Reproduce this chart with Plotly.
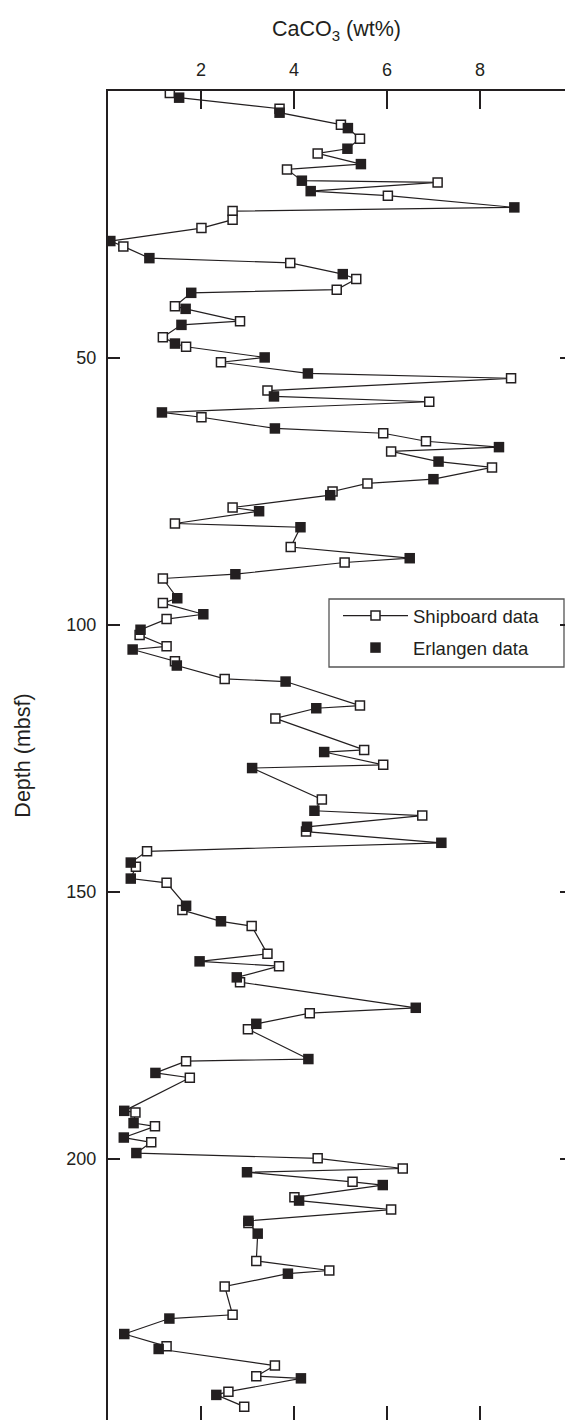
import plotly.graph_objects as go

# ---- data ----
ship_depth = [0.39, 3.31, 6.31, 8.93, 11.69, 14.68, 17.12, 19.61, 22.49, 24.10, 25.67, 29.1, 32.2, 35.2, 37.2,
              40.3, 43.1, 46.1, 47.9, 50.8, 53.8, 56.1, 58.2, 61.1, 64.1, 65.6, 67.5, 70.5, 73.5, 75.0, 78.0,
              81.0, 85.4, 88.3, 91.3, 95.9, 98.9, 101.9, 104.0, 106.8, 110.1, 115.1, 117.5, 123.4, 126.2,
              132.7, 135.7, 138.7, 142.4, 145.3, 148.3, 153.4, 156.4, 161.6, 163.9, 166.9, 172.7, 175.7,
              181.7, 184.8, 191.3, 193.9, 196.9, 199.9, 201.8, 204.3, 207.2, 209.5, 212.0, 219.1, 220.9,
              223.9, 229.2, 235.1, 238.7, 240.7, 243.6, 246.4]
ship_caco3 = [1.33, 3.69, 5.01, 5.42, 4.51, 3.85, 7.09, 6.02, 2.68, 2.68, 2.01, 0.33, 3.92, 5.34, 4.92,
              1.44, 2.84, 1.18, 1.68, 2.43, 8.67, 3.43, 6.91, 2.01, 5.92, 6.84, 6.09, 8.26, 5.58, 4.83, 2.68,
              1.44, 3.93, 5.09, 1.18, 1.18, 1.26, 0.68, 1.26, 1.44, 2.51, 5.42, 3.60, 5.51, 5.92,
              4.60, 6.76, 4.26, 0.84, 0.60, 1.26, 1.60, 3.09, 3.43, 3.68, 2.84, 4.34, 3.01,
              1.68, 1.76, 0.59, 1.01, 0.93, 4.51, 6.34, 5.26, 4.01, 6.09, 3.02, 3.19, 4.76,
              2.51, 2.68, 1.26, 3.59, 3.19, 2.59, 2.93]

erl_depth = [1.25, 4.06, 6.95, 10.81, 13.69, 16.80, 18.75, 21.80, 28.1, 31.3, 34.3, 37.8, 40.8, 43.8, 47.3,
             49.9, 52.9, 57.2, 60.2, 63.2, 66.7, 69.4, 72.7, 75.7, 78.7, 81.7, 87.5, 90.5, 95.0, 98.0,
             100.9, 104.6, 107.6, 110.6, 115.6, 123.8, 126.8, 134.8, 137.8, 140.8, 144.5, 147.5, 152.6,
             155.5, 163.0, 166.0, 171.7, 174.7, 181.3, 183.9, 191.0, 193.3, 196.0, 198.9, 202.5, 204.9,
             207.8, 211.6, 214.0, 221.5, 229.9, 232.8, 235.6, 241.1, 244.2]
erl_caco3 = [1.53, 3.69, 5.16, 5.15, 5.44, 4.17, 4.36, 8.74, 0.05, 0.89, 5.05, 1.79, 1.67, 1.58, 1.44,
             3.37, 4.30, 3.57, 1.16, 3.59, 8.41, 7.11, 7.00, 4.78, 3.25, 4.14, 6.49, 2.74, 1.49, 2.05,
             0.70, 0.53, 1.48, 3.82, 4.48, 4.65, 3.10, 4.44, 4.28, 7.17, 0.49, 0.49, 1.68,
             2.43, 1.97, 2.77, 6.62, 3.19, 4.31, 1.02, 0.35, 0.55, 0.34, 0.61, 2.99, 5.91,
             4.11, 3.02, 3.22, 3.87, 1.32, 0.35, 1.09, 4.15, 2.33]

x_ticks = [2, 4, 6, 8]
y_ticks = [50, 100, 150, 200]
x_range = [0, 9.83]
y_range = [248.9, 0]

INK = "#231f20"
FONT = "Liberation Sans, Arial, Helvetica, sans-serif"

W, H = 565, 1420
ML, MT = 108, 91
PW, PH = W - ML, H - MT


def px_x(p):
    return (p - ML) / PW


def px_y(p):
    return (H - p) / PH


# combined profile, ordered by depth, for the connecting line
pairs = sorted(list(zip(ship_depth, ship_caco3)) + list(zip(erl_depth, erl_caco3)))
all_depth = [p[0] for p in pairs]
all_caco3 = [p[1] for p in pairs]

fig = go.Figure()
fig.add_trace(go.Scatter(x=all_caco3, y=all_depth, mode="lines",
                         line=dict(color=INK, width=1.2), showlegend=False, hoverinfo="skip"))
fig.add_trace(go.Scatter(x=ship_caco3, y=ship_depth, mode="markers", showlegend=False,
                         marker=dict(symbol="square", size=9, color="white", line=dict(color=INK, width=1.5))))
fig.add_trace(go.Scatter(x=[None], y=[None], mode="lines+markers", name="Shipboard data",
                         legendgroup="s",
                         line=dict(color=INK, width=1.2),
                         marker=dict(symbol="square", size=9, color="white", line=dict(color=INK, width=1.5))))
fig.add_trace(go.Scatter(x=erl_caco3, y=erl_depth, mode="markers", name="Erlangen data",
                         legendgroup="e",
                         marker=dict(symbol="square", size=10.5, color=INK, line=dict(width=0))))
# helper trace so the mirrored tick axes are drawn
fig.add_trace(go.Scatter(x=[None], y=[None], xaxis="x2", yaxis="y2", showlegend=False, hoverinfo="skip"))

fig.update_layout(
    width=W, height=H,
    margin=dict(l=ML, r=0, t=MT, b=0, autoexpand=False),
    paper_bgcolor="white", plot_bgcolor="white",
    font=dict(family=FONT, color=INK, size=18),
    xaxis=dict(side="top", range=x_range, tickvals=x_ticks, ticks="inside", ticklen=18, tickwidth=1.5,
               tickcolor=INK, showline=True, linewidth=2, linecolor=INK, showgrid=False, zeroline=False,
               tickfont=dict(size=18, family=FONT, color=INK), ticklabelstandoff=6,
               title=dict(text="CaCO<sub>3</sub> (wt%)", font=dict(size=21.5, family=FONT, color=INK),
                          standoff=17)),
    yaxis=dict(range=y_range, tickvals=y_ticks, ticks="inside", ticklen=12, tickwidth=1.5,
               tickcolor=INK, showline=True, linewidth=2, linecolor=INK, showgrid=False, zeroline=False,
               tickfont=dict(size=18, family=FONT, color=INK), ticklabelstandoff=6,
               title=dict(text="Depth (mbsf)", font=dict(size=21.5, family=FONT, color=INK), standoff=30)),
    xaxis2=dict(overlaying="x", anchor="y", side="bottom", range=x_range, tickvals=x_ticks, ticks="inside",
                ticklen=14, tickwidth=1.5, tickcolor=INK, showline=False, showgrid=False, zeroline=False,
                showticklabels=False),
    yaxis2=dict(overlaying="y", anchor="x", side="right", range=y_range, tickvals=y_ticks, ticks="inside",
                ticklen=5, tickwidth=1.5, tickcolor=INK, showline=False, showgrid=False, zeroline=False,
                showticklabels=False),
    legend=dict(x=px_x(338), y=px_y(597), xanchor="left", yanchor="top",
                bgcolor="rgba(0,0,0,0)", borderwidth=0,
                font=dict(size=18.5, family=FONT, color=INK),
                traceorder="grouped", tracegroupgap=5, itemwidth=65),
    shapes=[dict(type="rect", xref="paper", yref="paper",
                 x0=px_x(329), x1=px_x(564), y0=px_y(667), y1=px_y(599),
                 line=dict(color="#555555", width=1.3), fillcolor="white", layer="below")],
    hovermode=False,
)

fig.write_html("out.html", include_plotlyjs=True, config={"displayModeBar": False})
